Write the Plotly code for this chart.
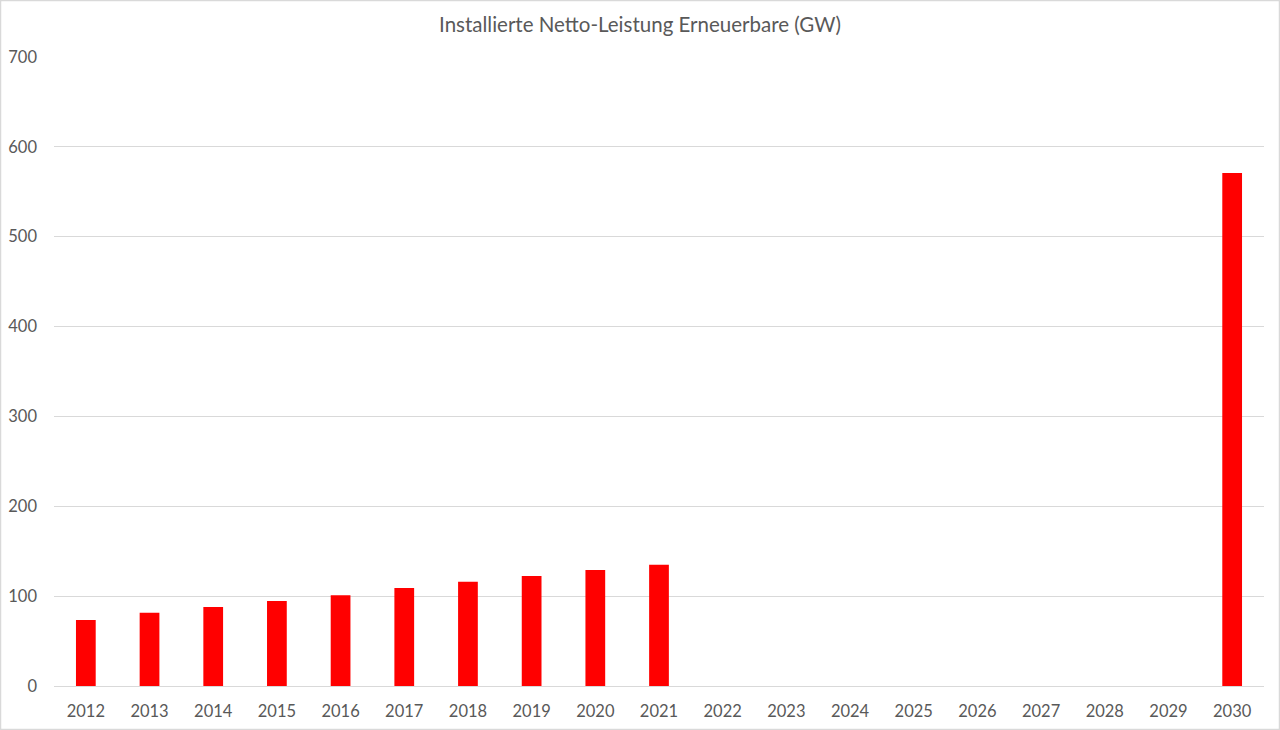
import plotly.graph_objects as go

years = [str(y) for y in range(2012, 2031)]
values = [73.5, 81.5, 88, 94.5, 101, 109, 116, 122.5, 129, 135,
          None, None, None, None, None, None, None, None, 571]
y_ticks = [0, 100, 200, 300, 400, 500, 600, 700]
title = "Installierte Netto-Leistung Erneuerbare (GW)"

grey = "#595959"
grid = "#d9d9d9"

fig = go.Figure(go.Bar(x=years, y=values, marker_color="#ff0000",
                       marker_line_width=0, showlegend=False))

fig.update_layout(
    width=1280, height=730,
    margin=dict(l=54, r=16, t=57, b=44),
    paper_bgcolor="white", plot_bgcolor="white",
    bargap=0.69,
    font=dict(family="Lato, Open Sans, sans-serif", size=16.5, color=grey),
    title=dict(text=title, x=0.5, xanchor="center", y=1 - 25 / 730, yanchor="middle",
               font=dict(size=20.5, color=grey)),
    xaxis=dict(type="category", categoryorder="array", categoryarray=years,
               showgrid=False, showline=True, linecolor=grid, linewidth=1,
               ticks="", tickfont=dict(size=16.5, color=grey), ticklabelstandoff=10,
               automargin=False),
    yaxis=dict(range=[0, 700], tickvals=y_ticks, showgrid=True, gridcolor=grid,
               gridwidth=1, zeroline=False, showline=False, ticks="",
               tickfont=dict(size=16.5, color=grey), ticklabelstandoff=16,
               automargin=False),
    shapes=[dict(type="rect", xref="paper", yref="paper",
                 x0=-53.5 / 1210, x1=1 + 15.5 / 1210, y0=-43.5 / 629, y1=1 + 56.5 / 629,
                 line=dict(color=grid, width=1.5), fillcolor="rgba(0,0,0,0)", layer="below")],
)

fig.write_html("out.html", config={"displayModeBar": False},
               post_script="document.body.style.margin='0';")
